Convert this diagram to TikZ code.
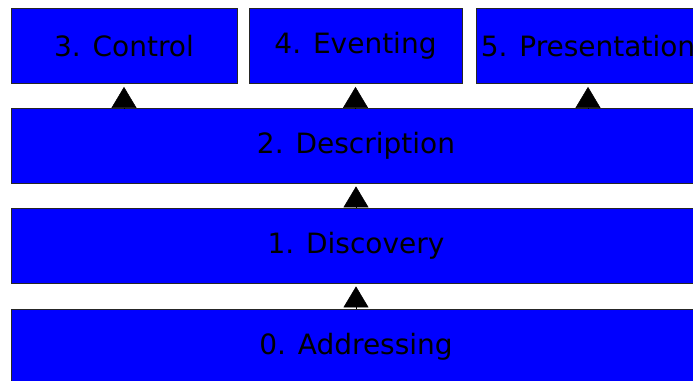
\documentclass[tikz,border=0pt]{standalone}
\usepackage{fontspec}
\setmainfont{DejaVu Sans}
\usetikzlibrary{arrows.meta}
\begin{document}
\begin{tikzpicture}[x=1pt,y=-1pt,
  layer/.style={draw=black!85, line width=0.8pt, fill=blue, inner sep=0pt,
    minimum height=75pt, font=\fontsize{28}{34}\selectfont},
  uparrow/.style={-{Triangle[width=25pt,length=21pt]}, line width=0.5pt, black, shorten >=3pt}]
\useasboundingbox (0,0) rectangle (693,380);
\clip (0,0) rectangle (693,380);
% top row of layers
\node[layer, minimum width=226pt] (ctrl) at (124,46) {3. Control};
\node[layer, minimum width=213pt] (event) at (355.5,46) {4. Eventing};
\node[layer, minimum width=224pt] (pres) at (588,46) {5. Presentation};
% stacked full-width layers
\node[layer, minimum width=690pt] (desc) at (356,145.5) {2. Description};
\node[layer, minimum width=690pt] (disc) at (356,245.5) {1. Discovery};
\node[layer, minimum width=690pt] (addr) at (356,346.5) {0. Addressing};
% dependencies
\draw[uparrow] (desc.north -| ctrl.south) -- (ctrl.south);
\draw[uparrow] (desc.north -| event.south) -- (event.south);
\draw[uparrow] (desc.north -| pres.south) -- (pres.south);
\draw[uparrow] (disc.north) -- (desc.south);
\draw[uparrow] (addr.north) -- (disc.south);
\end{tikzpicture}
\end{document}
